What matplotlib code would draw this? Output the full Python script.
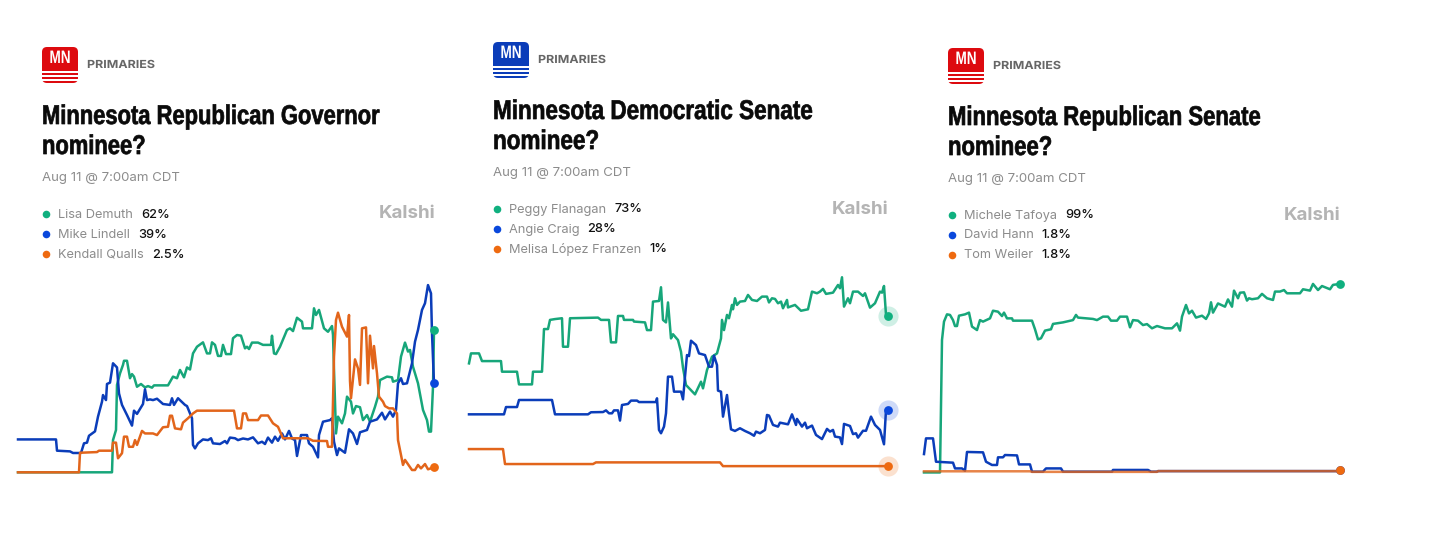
import matplotlib
matplotlib.use("Agg")
import matplotlib.pyplot as plt
from matplotlib.patches import FancyBboxPatch, Rectangle
from matplotlib.patheffects import AbstractPathEffect
from matplotlib.transforms import Affine2D

# each series is (time step, chance in %)
gov_demuth = [(0,0.3),(94,0.3),(95,14.3),(98,18.7),(99,38.3),(102,43.3),(105,47),(106,48.8),(109,48.8),(112,41.2),(114,43),(116,41.9),(119,37.5),(123,38.7),(127,37.2),(130,37.8),(134,37.1),(136,38.1),(150,38.1),(155,41.9),(159,41.2),(162,44.8),(166,41.6),(169,45.9),(172,45),(175,52),(179,54.9),(185,56.8),(189,52),(192,52),(194,56.8),(197,55.7),(200,50.9),(203,50.9),(205,55.7),(208,51.7),(213,51.7),(215,58.6),(219,60),(223,59.7),(227,54.2),(229,54.9),(231,53.9),(234,56.7),(240,56.7),(245,55.7),(253,55.7),(254,59.7),(256,52),(258,51.7),(262,54.9),(269,62.2),(272,62.9),(275,61.7),(279,67.5),(284,65.8),(285,62.9),(294,62.9),(296,71.6),(298,68.7),(301,70.9),(306,62.9),(310,61.4),(314,63.9),(315,60),(316,44.8),(318,17.2),(320,24.5),(324,21.6),(327,25.9),(329,33.2),(333,31),(335,25.9),(338,29.1),(342,28.6),(345,23),(349,25.2),(352,22.3),(357,28.8),(360,33.2),(362,40.4),(369,41.9),(374,41.6),(375,39.7),(380,40.4),(383,50.6),(387,56.7),(390,52.8),(392,53.5),(395,46.2),(400,39),(405,27.4),(409,23),(411,18),(413,18),(415,37.5),(416,61.9)]
gov_lindell = [(0,14.6),(38,14.6),(39,9.7),(52,9.4),(55,8.7),(63,8.7),(66,12.9),(69,13.2),(71,16.2),(77,18.1),(80,24.5),(84,31),(85,33.9),(88,31.7),(89,38.7),(92,39.3),(95,47.7),(99,45.9),(101,34.6),(104,29.6),(109,25.2),(114,20.6),(116,27.1),(119,25.7),(125,30),(127,36.4),(129,31.7),(132,32),(135,31.7),(139,32.3),(145,30),(152,29.6),(154,32.5),(156,29.6),(160,32.5),(167,29.6),(169,29.1),(174,23.8),(175,12.2),(177,10.7),(180,12.9),(185,14.6),(190,14.3),(193,15.1),(195,12.9),(202,12.6),(207,13.9),(209,12.9),(212,15.4),(217,15.1),(220,14.3),(225,15),(230,14.6),(235,15.5),(240,12.9),(244,13.6),(247,12.6),(250,15.4),(254,13.2),(257,15.8),(260,14),(264,17.2),(267,14.6),(271,18.3),(274,15),(277,14.3),(279,7.4),(283,16.5),(289,16.5),(291,12.9),(295,11.4),(300,6.8),(301,16.5),(305,22.3),(312,23),(314,23.8),(316,13.6),(319,7.8),(321,10.7),(327,8.8),(331,19),(335,17.2),(339,12.6),(342,17.7),(349,18.7),(352,22.3),(359,23.3),(364,26.2),(367,23.3),(372,26.7),(375,24.5),(378,27.4),(380,39),(383,41.2),(385,38.7),(389,39),(394,47.7),(397,57.1),(400,62.2),(404,70.9),(407,73.8),(410,81.7),(413,78.1),(414,60.7),(416,39)]
gov_qualls = [(0,0.3),(61,0.3),(62,8.8),(79,9.1),(81,9.7),(94,9.7),(95,13.2),(98,13.2),(100,6.4),(104,8.6),(106,15.8),(109,15.8),(111,11.4),(115,11.4),(117,14.3),(119,12.2),(124,18.3),(127,17.2),(135,17.2),(139,16.5),(145,19.9),(150,20.1),(152,24.9),(154,24.9),(157,19.4),(163,19),(165,21.9),(170,23.8),(175,25.9),(179,27.1),(216,27.1),(219,19.4),(223,19.4),(225,25.9),(228,25.9),(230,23),(240,23),(243,25),(250,25),(255,21.6),(260,20.1),(265,15.1),(290,15.1),(295,14),(309,13.9),(310,11.4),(314,11.4),(316,50.6),(318,66.5),(320,69.7),(324,63.6),(329,59.3),(331,68.7),(332,40),(333,32.5),(337,49.4),(340,45.5),(342,38.3),(344,62.9),(348,63.3),(350,39),(352,59.7),(355,45.5),(356,55.2),(359,43.3),(361,33.2),(365,31),(367,29.1),(371,28.1),(375,28.1),(379,25.9),(380,14.3),(385,3.5),(387,5.7),(394,1.3),(397,1.3),(400,3.5),(403,2),(407,3.9),(410,1.6),(416,2.5)]

dem_flanagan = [(0,50.3),(2,55.1),(10,55.1),(13,51.4),(32,51.4),(33,46.3),(48,46.3),(50,40.2),(63,40.2),(64,46.3),(73,46.3),(75,66.8),(79,66.8),(81,71.2),(86,71.6),(93,72),(94,58.3),(99,58.3),(101,72),(129,72.3),(132,71.2),(140,71.2),(142,60.4),(147,60.4),(149,73.1),(154,73.1),(155,71.2),(164,71.2),(165,70.4),(176,70),(178,66.3),(182,66.3),(184,80),(190,80.3),(192,86.9),(194,71.2),(197,70),(199,79.6),(202,62.3),(204,64.3),(209,61.5),(212,55.9),(214,48.2),(217,39.9),(226,35.4),(232,41.5),(234,38.3),(238,47.1),(243,53.5),(248,55.1),(252,62.3),(253,71.2),(255,66.3),(258,73.6),(260,72),(263,78.4),(264,76.3),(266,81.6),(268,78.4),(271,80),(276,80.3),(279,83.2),(283,80.8),(288,80.3),(293,82.4),(298,82.4),(300,79.6),(303,81.6),(306,81.3),(309,79.2),(312,80),(314,76.8),(318,80.8),(319,77.2),(326,78.4),(332,75.6),(339,76.3),(343,84.8),(348,84),(351,84.8),(354,86.1),(357,83.7),(364,84.3),(369,88),(371,86.4),(373,91.7),(375,77.6),(379,81.6),(381,79.2),(384,84.8),(389,84.8),(394,82.7),(396,84),(401,77.1),(406,79.2),(411,84.8),(413,84.3),(415,87.5),(417,73.6),(419,73.2)]
dem_craig = [(0,25.8),(35,25.8),(37,29.3),(48,29.3),(50,32.7),(83,32.7),(86,25.8),(119,25.8),(122,26.8),(134,26.9),(137,27.7),(140,26.3),(143,26.3),(145,27.7),(149,27.7),(151,22.8),(153,30.3),(159,30.8),(162,32.4),(168,32.4),(170,31.7),(187,31.7),(188,33.5),(190,18.3),(192,16.7),(195,19.9),(197,26.3),(199,43.9),(203,43.9),(205,36.7),(212,36.7),(214,33),(216,43.9),(218,54.3),(220,53.8),(222,61.2),(227,59.1),(230,55.1),(236,54.3),(240,48.7),(243,48.7),(245,54),(248,49.5),(249,37.2),(252,36.7),(254,24.7),(258,35.1),(260,26.3),(262,18.6),(266,17.8),(271,19.1),(276,17.8),(281,16.7),(285,15.5),(287,17.5),(291,16.7),(296,18.3),(298,25.5),(300,25.2),(304,20.7),(309,19.9),(311,21.8),(319,21),(323,25.8),(327,20.7),(328,23.6),(333,19.9),(336,21.8),(338,19.1),(343,20.4),(347,15.9),(353,13.9),(358,18.8),(361,17.5),(364,18.3),(366,15.1),(371,14.7),(373,11.5),(375,21.2),(381,20.2),(384,16.3),(387,16.7),(389,14.6),(394,17.9),(397,17.9),(402,24.7),(406,20.7),(411,18.3),(415,11.4),(417,27.9),(419,28.2)]
dem_franzen = [(0,9.1),(34,9.1),(36,1.9),(124,1.9),(127,2.7),(251,2.7),(254,0.9),(419,0.9)]

sen_tafoya = [(0,0.5),(16,0.5),(18,69.7),(20,79.3),(23,83.1),(26,82.8),(29,80.1),(31,77),(33,77),(35,82.4),(41,83.1),(45,84),(48,76.7),(53,74.9),(56,80.1),(59,79.3),(66,81),(69,85),(74,84.5),(78,82.2),(80,84),(83,81),(88,81),(89,79.8),(108,79.8),(111,75.3),(114,70),(117,70.6),(121,74.6),(127,75.3),(129,78.1),(139,78.9),(149,80.1),(152,82.8),(154,81.4),(169,80.7),(173,80.1),(179,81.9),(184,81.9),(187,79.8),(193,79.8),(196,81.9),(203,81.9),(206,76.3),(209,80.1),(214,79.8),(219,77.5),(223,78),(228,75.8),(233,77),(241,75.8),(248,75.8),(253,78.4),(256,74.6),(258,81.9),(262,88),(265,83.6),(268,85),(272,81.4),(278,82.4),(282,80.7),(285,83.6),(287,89.4),(289,84),(294,88.8),(301,87.1),(304,90.9),(308,87.1),(310,95.5),(314,91.5),(316,94.4),(320,94.6),(323,90.3),(325,91.5),(328,91),(334,91.5),(338,93.8),(343,91.5),(349,90.6),(351,95),(356,95),(360,95.8),(363,94.1),(376,94.1),(379,96.2),(386,95.5),(389,99),(394,95.8),(398,97.9),(406,96.2),(409,98.5),(416,99)]
sen_hann = [(0,10.1),(2,18.3),(9,18.3),(12,6.1),(29,5.6),(31,2.6),(38,2.6),(41,1.4),(43,11.2),(59,11),(62,6.1),(68,4.4),(73,4.4),(74,8.4),(79,8.4),(81,9.6),(93,9.4),(95,4.7),(106,4.7),(108,0.9),(119,0.9),(122,2.6),(137,2.6),(139,0.9),(188,0.9),(189,1.8),(224,1.8),(227,0.9),(233,0.9),(234,1.2),(414,1.2),(416,1.8)]
sen_weiler = [(0,1.1),(106,1.1),(108,0.8),(233,0.8),(234,1.2),(414,1.2),(416,1.8)]

titles = [["Minnesota Republican Governor", "nominee?"],
          ["Minnesota Democratic Senate", "nominee?"],
          ["Minnesota Republican Senate", "nominee?"]]
names = [["Lisa Demuth", "Mike Lindell", "Kendall Qualls"],
         ["Peggy Flanagan", "Angie Craig", "Melisa López Franzen"],
         ["Michele Tafoya", "David Hann", "Tom Weiler"]]
shares = [["62%", "39%", "2.5%"], ["73%", "28%", "1%"], ["99%", "1.8%", "1.8%"]]
series = [[gov_demuth, gov_lindell, gov_qualls],
          [dem_flanagan, dem_craig, dem_franzen],
          [sen_tafoya, sen_hann, sen_weiler]]
last_values = [[62, 39, 2.5], [73, 28, 1], [99, 1.8, 1.8]]

W, H = 1456, 535
GREEN, BLUE, ORANGE = "#17A67A", "#0B3DB9", "#E2651B"
DOTS = ["#10B07F", "#0A48DC", "#EE6A10"]
TITLE_FONT = ["Liberation Sans", "DejaVu Sans"]
BODY_FONT = ["Inter", "DejaVu Sans"]

# px layout of each card: left, top of logo, chart left/right, y of 0 and 100
cards = [
    dict(x=42, y=47, logo="#DD0A0F", left=18, right=434, y0=473.0, y100=243.0, halo=False, kalshi=435, orange_alpha=1, squeeze=0.81),
    dict(x=493, y=42, logo="#0B3DB9", left=469, right=888, y0=468.0, y100=260.0, halo=True, kalshi=888, orange_alpha=1, squeeze=0.83),
    dict(x=948, y=48, logo="#DD0A0F", left=924, right=1340, y0=473.4, y100=282.0, halo=False, kalshi=1340, orange_alpha=0.8, squeeze=0.815),
]

fig = plt.figure(figsize=(W / 100, H / 100), dpi=100, facecolor="white")
page = fig.add_axes([0, 0, 1, 1])
page.set_xlim(0, W)
page.set_ylim(H, 0)
page.axis("off")


class Stretch(AbstractPathEffect):
    # no condensed or tracked font installed, so squeeze the glyphs sideways
    def __init__(self, x_px, factor, heavy=0):
        super().__init__()
        self.x_px = x_px
        self.factor = factor
        self.heavy = heavy

    def draw_path(self, renderer, gc, tpath, affine, rgbFace=None):
        squeeze = Affine2D().translate(-self.x_px, 0).scale(self.factor, 1).translate(self.x_px, 0)
        gc2 = renderer.new_gc()
        gc2.copy_properties(gc)
        if self.heavy:
            gc2.set_foreground(rgbFace)
            gc2.set_linewidth(self.heavy)
        renderer.draw_path(gc2, tpath, affine + squeeze, rgbFace)
        gc2.restore()


def stretched(x, y, s, factor, heavy=0, **kw):
    t = page.text(x, y, s, **kw)
    t.set_path_effects([Stretch(x, factor, heavy)])
    return t


def draw_logo(x, y, colour):
    page.add_patch(FancyBboxPatch((x + 4, y + 4), 28, 28, boxstyle="round,pad=4,rounding_size=5",
                                  fc=colour, ec="none"))
    for top in [y + 24, y + 28, y + 32]:
        page.add_patch(Rectangle((x - 1, top), 38, 1.7, fc="white", ec="none"))
    stretched(x + 7.5, y + 11.5, "MN", 0.75, color="white", fontsize=13, fontweight="bold",
              family=TITLE_FONT, va="center")


for i, card in enumerate(cards):
    x, y = card["x"], card["y"]
    draw_logo(x, y, card["logo"])
    stretched(x + 45, y + 18, "PRIMARIES", 1.12, color="#666666", fontsize=8, fontweight="bold",
              family=BODY_FONT, va="center")
    for k, line in enumerate(titles[i]):
        stretched(x, y + 70 + 30 * k, line, card["squeeze"], heavy=0.5, color="#0A0A0A", fontsize=19.5,
                  fontweight="bold", family=TITLE_FONT, va="center")
    page.text(x, y + 131, "Aug 11 @ 7:00am CDT", color="#8C8C8C", fontsize=9.5, family=BODY_FONT, va="center")
    page.text(card["kalshi"], y + 167, "Kalshi", color="#B4B4B4", fontsize=13.5, fontweight="bold",
              family=BODY_FONT, ha="right", va="center")

    renderer = fig.canvas.get_renderer()
    for j in range(3):
        row = y + 167.5 + 20 * j
        page.scatter([x + 4], [row - 0.5], s=30, color=DOTS[j], linewidths=0)
        label = page.text(x + 16, row, names[i][j], color="#8C8C8C", fontsize=9.2, family=BODY_FONT, va="center")
        box = label.get_window_extent(renderer)
        page.text(box.x1 + 8, row, shares[i][j], color="#111111", fontsize=9.2, fontweight="medium",
                  family=BODY_FONT, va="center")

    # chart axes: y in percent, x in time steps
    width = card["right"] - card["left"]
    ax = fig.add_axes([card["left"] / W, 1 - card["y0"] / H, width / W, (card["y0"] - card["y100"]) / H])
    ax.set_xlim(0, width)
    ax.set_ylim(0, 100)
    ax.axis("off")
    ax.patch.set_alpha(0)
    alphas = [1, 1, card["orange_alpha"]]
    for pts, colour, alpha in zip(series[i], [GREEN, BLUE, ORANGE], alphas):
        ax.plot([p[0] for p in pts], [p[1] for p in pts], color=colour, lw=1.8, alpha=alpha,
                solid_joinstyle="round", clip_on=False)
    for value, colour in zip(last_values[i], DOTS):
        if card["halo"]:
            ax.scatter([width], [value], s=210, color=colour, alpha=0.2, linewidths=0, clip_on=False)
        ax.scatter([width], [value], s=40, color=colour, linewidths=0, clip_on=False, zorder=5)

fig.savefig("out.png", dpi=100, facecolor="white")
